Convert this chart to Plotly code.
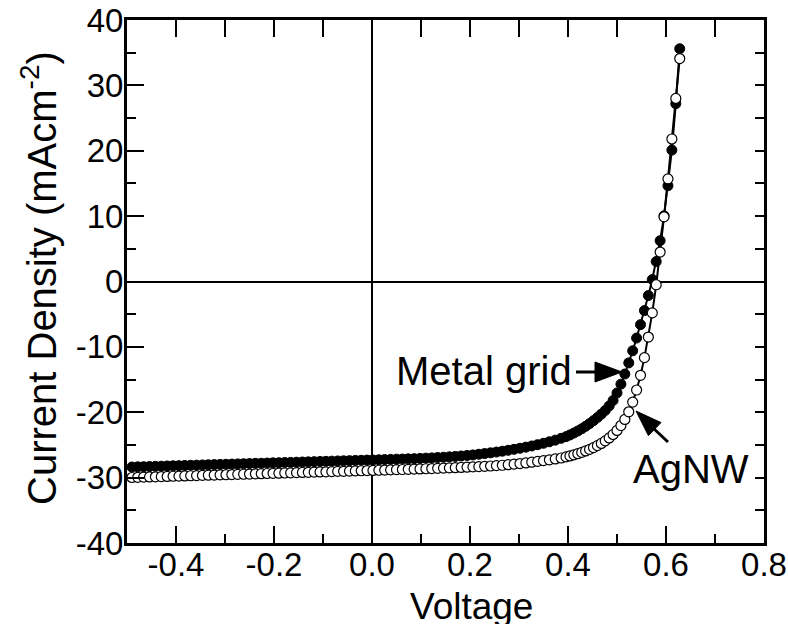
import plotly.graph_objects as go

# ---------------- data ----------------
voltage = [
    -0.490, -0.478, -0.466, -0.454, -0.442, -0.430, -0.418, -0.406, -0.394, -0.382,
    -0.370, -0.358, -0.346, -0.334, -0.322, -0.310, -0.298, -0.286, -0.274, -0.262,
    -0.250, -0.238, -0.226, -0.214, -0.202, -0.190, -0.178, -0.166, -0.154, -0.142,
    -0.130, -0.118, -0.106, -0.094, -0.082, -0.070, -0.058, -0.046, -0.034, -0.022,
    -0.010, 0.002, 0.014, 0.026, 0.038, 0.050, 0.062, 0.074, 0.086, 0.098,
    0.110, 0.122, 0.134, 0.146, 0.158, 0.170, 0.182, 0.194, 0.206, 0.218,
    0.230, 0.242, 0.254, 0.266, 0.278, 0.290, 0.302, 0.314, 0.326, 0.338,
    0.350, 0.362, 0.374, 0.386, 0.396, 0.404, 0.412, 0.420, 0.428, 0.436,
    0.444, 0.452, 0.460, 0.468, 0.476, 0.484, 0.492, 0.500, 0.508, 0.516,
    0.524, 0.532, 0.540, 0.548, 0.556, 0.564, 0.572, 0.580, 0.588, 0.596,
    0.604, 0.612, 0.620, 0.628,
]

j_metal_grid = [
    -28.38, -28.35, -28.33, -28.30, -28.27, -28.25, -28.22, -28.19, -28.17, -28.14,
    -28.11, -28.09, -28.06, -28.03, -28.01, -27.98, -27.96, -27.93, -27.90, -27.88,
    -27.85, -27.82, -27.80, -27.77, -27.74, -27.72, -27.69, -27.67, -27.64, -27.61,
    -27.59, -27.56, -27.53, -27.51, -27.48, -27.45, -27.43, -27.40, -27.37, -27.35,
    -27.32, -27.30, -27.27, -27.24, -27.21, -27.18, -27.16, -27.13, -27.10, -27.06,
    -27.02, -26.98, -26.93, -26.88, -26.82, -26.76, -26.69, -26.61, -26.53, -26.42,
    -26.32, -26.21, -26.09, -25.96, -25.82, -25.67, -25.51, -25.34, -25.16, -24.96,
    -24.75, -24.52, -24.27, -23.99, -23.73, -23.47, -23.18, -22.87, -22.53, -22.15,
    -21.74, -21.29, -20.81, -20.29, -19.72, -19.05, -18.20, -17.05, -15.70, -14.15,
    -12.45, -10.60, -8.65, -6.60, -4.45, -2.15, 0.30, 3.05, 6.25, 10.05,
    14.65, 20.10, 27.20, 35.60,
]

j_agnw = [
    -29.98, -29.95, -29.92, -29.90, -29.87, -29.85, -29.82, -29.79, -29.77, -29.74,
    -29.71, -29.69, -29.66, -29.63, -29.61, -29.58, -29.56, -29.53, -29.50, -29.48,
    -29.45, -29.42, -29.40, -29.37, -29.34, -29.32, -29.29, -29.27, -29.24, -29.21,
    -29.19, -29.16, -29.13, -29.11, -29.08, -29.05, -29.03, -29.00, -28.97, -28.95,
    -28.92, -28.90, -28.87, -28.84, -28.81, -28.78, -28.76, -28.73, -28.70, -28.67,
    -28.64, -28.61, -28.58, -28.55, -28.51, -28.48, -28.44, -28.40, -28.36, -28.32,
    -28.27, -28.22, -28.17, -28.11, -28.02, -27.94, -27.85, -27.75, -27.64, -27.52,
    -27.40, -27.27, -27.14, -27.00, -26.83, -26.68, -26.52, -26.34, -26.14, -25.92,
    -25.68, -25.41, -25.11, -24.77, -24.38, -23.93, -23.40, -22.78, -22.03, -21.10,
    -19.93, -18.45, -16.60, -14.35, -11.65, -8.50, -4.80, -0.50, 4.50, 9.90,
    15.70, 21.80, 28.00, 34.10,
]

x_tickvals = [-0.4, -0.2, 0.0, 0.2, 0.4, 0.6, 0.8]
x_ticktext = ["-0.4", "-0.2", "0.0", "0.2", "0.4", "0.6", "0.8"]
x_minorvals = [-0.5, -0.3, -0.1, 0.1, 0.3, 0.5, 0.7]
x_topvals = [-0.4, -0.3, -0.2, -0.1, 0.0, 0.1, 0.2, 0.3, 0.4, 0.5, 0.6, 0.7]
y_tickvals = [-40, -30, -20, -10, 0, 10, 20, 30, 40]
y_ticktext = ["-40", "-30", "-20", "-10", "0", "10", "20", "30", "40"]
y_minorvals = [-35, -25, -15, -5, 5, 15, 25, 35]
y_rightvals = [-35, -30, -25, -20, -15, -10, -5, 0, 5, 10, 15, 20, 25, 30, 35]

label_metal = "Metal grid"
label_agnw = "AgNW"

# ---------------- layout geometry ----------------
W, H = 788, 624
L, R, T, B = 127, 24, 20, 81
PW, PH = W - L - R, H - T - B
XR = [-0.5, 0.8]
YR = [-40, 40]
FONT = "Liberation Sans, Arial, Helvetica, sans-serif"


def px_x(px):
    return (px - L) / PW


def px_y(py):
    return (H - B - py) / PH


def dv(px):
    return XR[0] + (px - L) / PW * (XR[1] - XR[0])


def dj(py):
    return YR[1] - (py - T) / PH * (YR[1] - YR[0])


fig = go.Figure()

fig.add_trace(go.Scatter(
    x=voltage, y=j_metal_grid, mode="lines+markers", name=label_metal,
    line=dict(color="black", width=2),
    marker=dict(symbol="circle", size=10, color="black", line=dict(color="black", width=1)),
    cliponaxis=True, showlegend=False,
))
fig.add_trace(go.Scatter(
    x=voltage, y=j_agnw, mode="lines+markers", name=label_agnw,
    line=dict(color="black", width=2),
    marker=dict(symbol="circle", size=10, color="white", line=dict(color="black", width=1.2)),
    cliponaxis=True, showlegend=False,
))
# empty trace to register the mirrored top/right tick axes
fig.add_trace(go.Scatter(x=[], y=[], xaxis="x2", yaxis="y2", showlegend=False))

tickfont = dict(family=FONT, size=33, color="black")

fig.update_layout(
    width=W, height=H,
    margin=dict(l=L, r=R, t=T, b=B, pad=0),
    paper_bgcolor="white", plot_bgcolor="white",
    showlegend=False,
    xaxis=dict(
        range=XR, showgrid=False, zeroline=True, zerolinecolor="black", zerolinewidth=2,
        showline=True, linecolor="black", linewidth=3, mirror=True, automargin=False,
        tickmode="array", tickvals=x_tickvals, ticktext=x_ticktext,
        ticks="inside", ticklen=17, tickwidth=2, tickcolor="black",
        tickfont=tickfont, ticklabelstandoff=-10,
        minor=dict(tickmode="array", tickvals=x_minorvals, ticks="inside",
                   ticklen=9, tickwidth=2, tickcolor="black", showgrid=False),
    ),
    yaxis=dict(
        range=YR, showgrid=False, zeroline=True, zerolinecolor="black", zerolinewidth=2,
        showline=True, linecolor="black", linewidth=3, mirror=True, automargin=False,
        tickmode="array", tickvals=y_tickvals, ticktext=y_ticktext,
        ticks="inside", ticklen=17, tickwidth=2, tickcolor="black",
        tickfont=tickfont, ticklabelstandoff=-6,
        minor=dict(tickmode="array", tickvals=y_minorvals, ticks="inside",
                   ticklen=9, tickwidth=2, tickcolor="black", showgrid=False),
    ),
    xaxis2=dict(
        range=XR, overlaying="x", side="top", anchor="y", showgrid=False, zeroline=False,
        showline=False, tickmode="array", tickvals=x_topvals, showticklabels=False,
        ticks="inside", ticklen=17, tickwidth=2, tickcolor="black", automargin=False,
    ),
    yaxis2=dict(
        range=YR, overlaying="y", side="right", anchor="x", showgrid=False, zeroline=False,
        showline=False, tickmode="array", tickvals=y_rightvals, showticklabels=False,
        ticks="inside", ticklen=9, tickwidth=2, tickcolor="black", automargin=False,
    ),
)

annfont = dict(family=FONT, size=40, color="black")

annotations = [
    # y-axis title
    dict(text="Current Density (mAcm<sup>-2</sup>)", xref="paper", yref="paper",
         x=px_x(39), y=px_y(278), textangle=-90, showarrow=False,
         xanchor="center", yanchor="middle", font=annfont),
    # x-axis title
    dict(text="Voltage", xref="paper", yref="paper",
         x=px_x(471), y=px_y(606), showarrow=False,
         xanchor="center", yanchor="middle",
         font=dict(family=FONT, size=37, color="black")),
    # series labels
    dict(text=label_metal, xref="paper", yref="paper",
         x=px_x(574), y=px_y(371), showarrow=False,
         xanchor="right", yanchor="middle", font=annfont),
    dict(text=label_agnw, xref="paper", yref="paper",
         x=px_x(631), y=px_y(469), showarrow=False,
         xanchor="left", yanchor="middle", font=annfont),
]
fig.update_layout(annotations=annotations)

# arrows: shafts as lines, heads as filled triangles in pixel units
shapes = [
    dict(type="line", xref="x", yref="y", x0=dv(576), y0=dj(372), x1=dv(598), y1=dj(372),
         line=dict(color="black", width=3)),
    dict(type="path", xref="x", yref="y", xsizemode="pixel", ysizemode="pixel",
         xanchor=dv(622), yanchor=dj(372), path="M0,0 L-27,10 L-27,-10 Z",
         fillcolor="black", line=dict(color="black", width=1)),
    dict(type="line", xref="x", yref="y", x0=dv(668), y0=dj(442), x1=dv(652), y1=dj(427),
         line=dict(color="black", width=3)),
    dict(type="path", xref="x", yref="y", xsizemode="pixel", ysizemode="pixel",
         xanchor=dv(636), yanchor=dj(411), path="M0,0 L25,-11.6 L12.4,-24.6 Z",
         fillcolor="black", line=dict(color="black", width=1)),
]
fig.update_layout(shapes=shapes)

fig.write_html("out.html")
